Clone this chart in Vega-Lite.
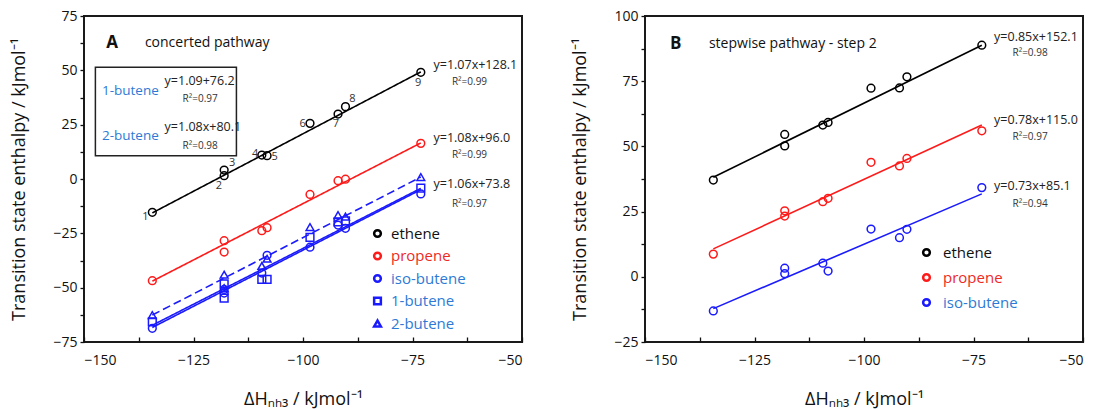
{
  "$schema": "https://vega.github.io/schema/vega-lite/v6.json",
  "padding": {"left": 9, "top": 8, "right": 0, "bottom": 0},
  "background": "white",
  "config": {
    "font": "Open Sans",
    "view": {"stroke": "#1a1a1a", "strokeWidth": 2},
    "axis": {
      "domain": false, "grid": false,
      "labelFont": "Open Sans", "labelFontSize": 14, "labelColor": "#111",
      "tickColor": "#111", "tickSize": 4, "tickWidth": 1.3,
      "titleFont": "Open Sans", "titleFontSize": 18, "titleFontWeight": "normal", "titleColor": "#111"
    },
    "axisX": {"tickSize": -5, "labelPadding": 16, "titlePadding": 23},
    "axisY": {"labelPadding": 3, "minExtent": 26, "maxExtent": 26, "titlePadding": 30}
  },
  "datasets": {
    "a_pts": [
      {"series": "ethene", "x": -134.4, "y": -15.3}, {"series": "ethene", "x": -118, "y": 1.5}, {"series": "ethene", "x": -118, "y": 4.1},
      {"series": "ethene", "x": -109.4, "y": 11}, {"series": "ethene", "x": -108.2, "y": 10.7}, {"series": "ethene", "x": -98.4, "y": 25.6},
      {"series": "ethene", "x": -92, "y": 29.9}, {"series": "ethene", "x": -90.3, "y": 33.3}, {"series": "ethene", "x": -73.1, "y": 49.1},
      {"series": "propene", "x": -134.4, "y": -46.8}, {"series": "propene", "x": -118, "y": -28.4}, {"series": "propene", "x": -118, "y": -33.6},
      {"series": "propene", "x": -109.4, "y": -23.8}, {"series": "propene", "x": -108.2, "y": -22.4}, {"series": "propene", "x": -98.4, "y": -7.1},
      {"series": "propene", "x": -92, "y": -0.8}, {"series": "propene", "x": -90.3, "y": -0.1}, {"series": "propene", "x": -73.1, "y": 16.4},
      {"series": "iso-butene", "x": -134.4, "y": -68.7}, {"series": "iso-butene", "x": -118, "y": -50.8}, {"series": "iso-butene", "x": -118, "y": -52.5},
      {"series": "iso-butene", "x": -109.4, "y": -43.3}, {"series": "iso-butene", "x": -108.2, "y": -35.1}, {"series": "iso-butene", "x": -98.4, "y": -31.4},
      {"series": "iso-butene", "x": -92, "y": -21.2}, {"series": "iso-butene", "x": -90.3, "y": -22.7}, {"series": "iso-butene", "x": -73.1, "y": -6.9},
      {"series": "1-butene", "x": -134.4, "y": -65.7}, {"series": "1-butene", "x": -118, "y": -48.3}, {"series": "1-butene", "x": -118, "y": -54.8},
      {"series": "1-butene", "x": -109.4, "y": -46.2}, {"series": "1-butene", "x": -108.2, "y": -46.2}, {"series": "1-butene", "x": -98.4, "y": -26.9},
      {"series": "1-butene", "x": -92, "y": -19.7}, {"series": "1-butene", "x": -90.3, "y": -19.3}, {"series": "1-butene", "x": -73.1, "y": -4.2},
      {"series": "2-butene", "x": -134.4, "y": -62.6}, {"series": "2-butene", "x": -118, "y": -44}, {"series": "2-butene", "x": -118, "y": -50.2},
      {"series": "2-butene", "x": -109.4, "y": -40}, {"series": "2-butene", "x": -108.2, "y": -36.7}, {"series": "2-butene", "x": -98.4, "y": -22.1},
      {"series": "2-butene", "x": -92, "y": -16.6}, {"series": "2-butene", "x": -90.3, "y": -17.3}, {"series": "2-butene", "x": -73.1, "y": 0.9}
    ],
    "a_lines": [
      {"series": "ethene", "x": -134.4, "y": -15.6}, {"series": "ethene", "x": -73.1, "y": 49.3},
      {"series": "propene", "x": -134.4, "y": -47}, {"series": "propene", "x": -73.1, "y": 16.6},
      {"series": "iso-butene", "x": -134.4, "y": -68.3}, {"series": "iso-butene", "x": -73.1, "y": -4.9},
      {"series": "1-butene", "x": -134.4, "y": -67.3}, {"series": "1-butene", "x": -73.1, "y": -4.3},
      {"series": "2-butene", "x": -134.4, "y": -62.6}, {"series": "2-butene", "x": -73.1, "y": 0.9}
    ],
    "a_box": [{"x": -147.4, "x2": -115.2, "y": 51.4, "y2": 10.7}],
    "a_eq": [
      {"x": -70.2, "y": 52.4, "text": "y=1.07x+128.1"},
      {"x": -70.2, "y": 19, "text": "y=1.08x+96.0"},
      {"x": -70.2, "y": -2.5, "text": "y=1.06x+73.8"},
      {"x": -131.6, "y": 45.2, "text": "y=1.09+76.2"},
      {"x": -131.6, "y": 24.1, "text": "y=1.08x+80.1"}
    ],
    "a_r2": [
      {"x": -66, "y": 44.8, "text": "R²=0.99"},
      {"x": -66, "y": 10.9, "text": "R²=0.99"},
      {"x": -66, "y": -11.5, "text": "R²=0.97"},
      {"x": -127.5, "y": 36.7, "text": "R²=0.97"},
      {"x": -127.5, "y": 15.2, "text": "R²=0.98"}
    ],
    "a_box_names": [
      {"x": -145.9, "y": 40.6, "text": "1-butene"},
      {"x": -145.9, "y": 19.9, "text": "2-butene"}
    ],
    "a_nums": [
      {"x": -136, "y": -17.4, "text": "1"}, {"x": -119.2, "y": -3.1, "text": "2"}, {"x": -116.2, "y": 7.2, "text": "3"},
      {"x": -110.9, "y": 11.5, "text": "4"}, {"x": -106.5, "y": 10, "text": "5"}, {"x": -100.1, "y": 25.3, "text": "6"},
      {"x": -92.5, "y": 25.3, "text": "7"}, {"x": -88.7, "y": 36.7, "text": "8"}, {"x": -73.7, "y": 44.3, "text": "9"}
    ],
    "a_letter": [{"x": -143.6, "y": 62.4, "text": "A"}],
    "a_title": [{"x": -136.1, "y": 62.4, "text": "concerted pathway"}],
    "b_pts": [
      {"series": "ethene", "x": -134.4, "y": 37.1}, {"series": "ethene", "x": -118.1, "y": 54.6}, {"series": "ethene", "x": -118.1, "y": 50.2},
      {"series": "ethene", "x": -109.4, "y": 58.2}, {"series": "ethene", "x": -108.2, "y": 59.2}, {"series": "ethene", "x": -98.4, "y": 72.3},
      {"series": "ethene", "x": -91.9, "y": 72.4}, {"series": "ethene", "x": -90.2, "y": 76.7}, {"series": "ethene", "x": -73.1, "y": 88.8},
      {"series": "propene", "x": -134.4, "y": 8.7}, {"series": "propene", "x": -118.1, "y": 25.3}, {"series": "propene", "x": -118.1, "y": 23.3},
      {"series": "propene", "x": -109.4, "y": 28.8}, {"series": "propene", "x": -108.2, "y": 30.1}, {"series": "propene", "x": -98.4, "y": 43.9},
      {"series": "propene", "x": -91.9, "y": 42.5}, {"series": "propene", "x": -90.2, "y": 45.4}, {"series": "propene", "x": -73.1, "y": 56},
      {"series": "iso-butene", "x": -134.4, "y": -13.1}, {"series": "iso-butene", "x": -118.1, "y": 3.3}, {"series": "iso-butene", "x": -118.1, "y": 1.2},
      {"series": "iso-butene", "x": -109.4, "y": 5.2}, {"series": "iso-butene", "x": -108.2, "y": 2.2}, {"series": "iso-butene", "x": -98.4, "y": 18.3},
      {"series": "iso-butene", "x": -91.9, "y": 15}, {"series": "iso-butene", "x": -90.2, "y": 18.2}, {"series": "iso-butene", "x": -73.1, "y": 34.2}
    ],
    "b_lines": [
      {"series": "ethene", "x": -134.4, "y": 38.2}, {"series": "ethene", "x": -73.1, "y": 88.8},
      {"series": "propene", "x": -134.4, "y": 10.7}, {"series": "propene", "x": -73.1, "y": 58.2},
      {"series": "iso-butene", "x": -134.4, "y": -12.2}, {"series": "iso-butene", "x": -73.1, "y": 31.8}
    ],
    "b_eq": [
      {"x": -70.3, "y": 92.1, "text": "y=0.85x+152.1"},
      {"x": -70.3, "y": 60.1, "text": "y=0.78x+115.0"},
      {"x": -70.3, "y": 34.9, "text": "y=0.73x+85.1"}
    ],
    "b_r2": [
      {"x": -66.1, "y": 85.9, "text": "R²=0.98"},
      {"x": -66.1, "y": 53.5, "text": "R²=0.97"},
      {"x": -66.1, "y": 27.9, "text": "R²=0.94"}
    ],
    "b_letter": [{"x": -143, "y": 89.3, "text": "B"}],
    "b_title": [{"x": -135.4, "y": 89.3, "text": "stepwise pathway - step 2"}]
  },
  "hconcat": [
    {
      "width": 438, "height": 326,
      "encoding": {
        "x": {"field": "x", "type": "quantitative",
          "scale": {"domain": [-150, -50], "nice": false, "zero": false},
          "axis": {"title": "ΔHₙₕ₃ / kJmol⁻¹", "values": [-150, -137.5, -125, -112.5, -100, -87.5, -75, -62.5, -50],
                   "labelExpr": "datum.value % 25 == 0 ? format(datum.value, 'd') : ''"}},
        "y": {"field": "y", "type": "quantitative",
          "scale": {"domain": [-75, 75], "nice": false, "zero": false},
          "axis": {"title": "Transition state enthalpy / kJmol⁻¹", "values": [-75, -62.5, -50, -37.5, -25, -12.5, 0, 12.5, 25, 37.5, 50, 62.5, 75],
                   "labelExpr": "datum.value % 25 == 0 ? format(datum.value, 'd') : ''"}}
      },
      "layer": [
        {"data": {"name": "a_box"}, "mark": {"type": "rect", "fill": "white", "fillOpacity": 0, "stroke": "#222", "strokeWidth": 1.5},
         "encoding": {"x2": {"field": "x2"}, "y2": {"field": "y2"}}},
        {"data": {"name": "a_lines"}, "mark": {"type": "line", "strokeWidth": 1.6},
         "encoding": {
           "detail": {"field": "series"},
           "stroke": {"field": "series", "type": "nominal", "legend": null,
             "scale": {"domain": ["2-butene", "1-butene", "iso-butene", "propene", "ethene"], "range": ["#1a1aff", "#1a1aff", "#1a1aff", "#ff1a1a", "#000000"]}},
           "strokeDash": {"field": "series", "type": "nominal", "legend": null,
             "scale": {"domain": ["2-butene", "1-butene", "iso-butene", "propene", "ethene"], "range": [[8, 4], [1, 0], [1, 0], [1, 0], [1, 0]]}}
         }},
        {"data": {"name": "a_pts"}, "mark": {"type": "point", "filled": false, "size": 60, "strokeWidth": 1.5, "opacity": 1},
         "encoding": {
           "color": {"field": "series", "type": "nominal",
             "scale": {"domain": ["ethene", "propene", "iso-butene", "1-butene", "2-butene"], "range": ["#000000", "#ff1a1a", "#1a1aff", "#1a1aff", "#1a1aff"]},
             "legend": {"orient": "none", "legendX": 286, "legendY": 210, "title": null, "padding": 0, "labelFont": "Open Sans", "labelFontSize": 15,
               "labelColor": {"expr": "datum.label == 'ethene' ? '#111111' : datum.label == 'propene' ? '#ee2a1f' : '#2d7ad6'"},
               "symbolStrokeWidth": 2.5, "symbolSize": 45, "symbolOpacity": 1, "rowPadding": 5.5, "labelOffset": 6}},
           "shape": {"field": "series", "type": "nominal",
             "scale": {"domain": ["ethene", "propene", "iso-butene", "1-butene", "2-butene"], "range": ["circle", "circle", "circle", "square", "triangle-up"]},
             "legend": {"orient": "none", "legendX": 286, "legendY": 210, "title": null, "padding": 0, "labelFont": "Open Sans", "labelFontSize": 15,
               "labelColor": {"expr": "datum.label == 'ethene' ? '#111111' : datum.label == 'propene' ? '#ee2a1f' : '#2d7ad6'"},
               "symbolStrokeWidth": 2.5, "symbolSize": 45, "symbolOpacity": 1, "rowPadding": 5.5, "labelOffset": 6}}
         }},
        {"data": {"name": "a_eq"}, "mark": {"type": "text", "align": "left", "baseline": "middle", "fontSize": 12.5, "color": "#222"},
         "encoding": {"text": {"field": "text"}}},
        {"data": {"name": "a_r2"}, "mark": {"type": "text", "align": "left", "baseline": "middle", "fontSize": 10, "color": "#333"},
         "encoding": {"text": {"field": "text"}}},
        {"data": {"name": "a_box_names"}, "mark": {"type": "text", "align": "left", "baseline": "middle", "fontSize": 13.5, "color": "#2d7ad6"},
         "encoding": {"text": {"field": "text"}}},
        {"data": {"name": "a_nums"}, "mark": {"type": "text", "align": "center", "baseline": "middle", "fontSize": 11, "color": "#333"},
         "encoding": {"text": {"field": "text"}}},
        {"data": {"name": "a_letter"}, "mark": {"type": "text", "align": "center", "baseline": "middle", "fontSize": 17, "fontWeight": "bold", "color": "#111"},
         "encoding": {"text": {"field": "text"}}},
        {"data": {"name": "a_title"}, "mark": {"type": "text", "align": "left", "baseline": "middle", "fontSize": 14, "color": "#111"},
         "encoding": {"text": {"field": "text"}}}
      ]
    },
    {
      "width": 438, "height": 326,
      "encoding": {
        "x": {"field": "x", "type": "quantitative",
          "scale": {"domain": [-150, -50], "nice": false, "zero": false},
          "axis": {"title": "ΔHₙₕ₃ / kJmol⁻¹", "values": [-150, -137.5, -125, -112.5, -100, -87.5, -75, -62.5, -50],
                   "labelExpr": "datum.value % 25 == 0 ? format(datum.value, 'd') : ''"}},
        "y": {"field": "y", "type": "quantitative",
          "scale": {"domain": [-25, 100], "nice": false, "zero": false},
          "axis": {"title": "Transition state enthalpy / kJmol⁻¹", "values": [-25, -12.5, 0, 12.5, 25, 37.5, 50, 62.5, 75, 87.5, 100],
                   "labelExpr": "datum.value % 25 == 0 ? format(datum.value, 'd') : ''"}}
      },
      "layer": [
        {"data": {"name": "b_lines"}, "mark": {"type": "line", "strokeWidth": 1.6},
         "encoding": {
           "detail": {"field": "series"},
           "stroke": {"field": "series", "type": "nominal", "legend": null,
             "scale": {"domain": ["iso-butene", "propene", "ethene"], "range": ["#1a1aff", "#ff1a1a", "#000000"]}}
         }},
        {"data": {"name": "b_pts"}, "mark": {"type": "point", "filled": false, "size": 60, "strokeWidth": 1.5, "opacity": 1},
         "encoding": {
           "color": {"field": "series", "type": "nominal",
             "scale": {"domain": ["ethene", "propene", "iso-butene"], "range": ["#000000", "#ff1a1a", "#1a1aff"]},
             "legend": {"orient": "none", "legendX": 274, "legendY": 229, "title": null, "padding": 0, "labelFont": "Open Sans", "labelFontSize": 15,
               "labelColor": {"expr": "datum.label == 'ethene' ? '#111111' : datum.label == 'propene' ? '#ee2a1f' : '#2d7ad6'"},
               "symbolStrokeWidth": 2.5, "symbolSize": 45, "symbolOpacity": 1, "rowPadding": 8, "labelOffset": 9}}
         }},
        {"data": {"name": "b_eq"}, "mark": {"type": "text", "align": "left", "baseline": "middle", "fontSize": 12.5, "color": "#222"},
         "encoding": {"text": {"field": "text"}}},
        {"data": {"name": "b_r2"}, "mark": {"type": "text", "align": "left", "baseline": "middle", "fontSize": 10, "color": "#333"},
         "encoding": {"text": {"field": "text"}}},
        {"data": {"name": "b_letter"}, "mark": {"type": "text", "align": "center", "baseline": "middle", "fontSize": 17, "fontWeight": "bold", "color": "#111"},
         "encoding": {"text": {"field": "text"}}},
        {"data": {"name": "b_title"}, "mark": {"type": "text", "align": "left", "baseline": "middle", "fontSize": 14, "color": "#111"},
         "encoding": {"text": {"field": "text"}}}
      ]
    }
  ],
  "spacing": 46,
  "resolve": {
    "scale": {"color": "independent", "shape": "independent", "stroke": "independent", "strokeDash": "independent"},
    "legend": {"color": "independent", "shape": "independent"}
  }
}
